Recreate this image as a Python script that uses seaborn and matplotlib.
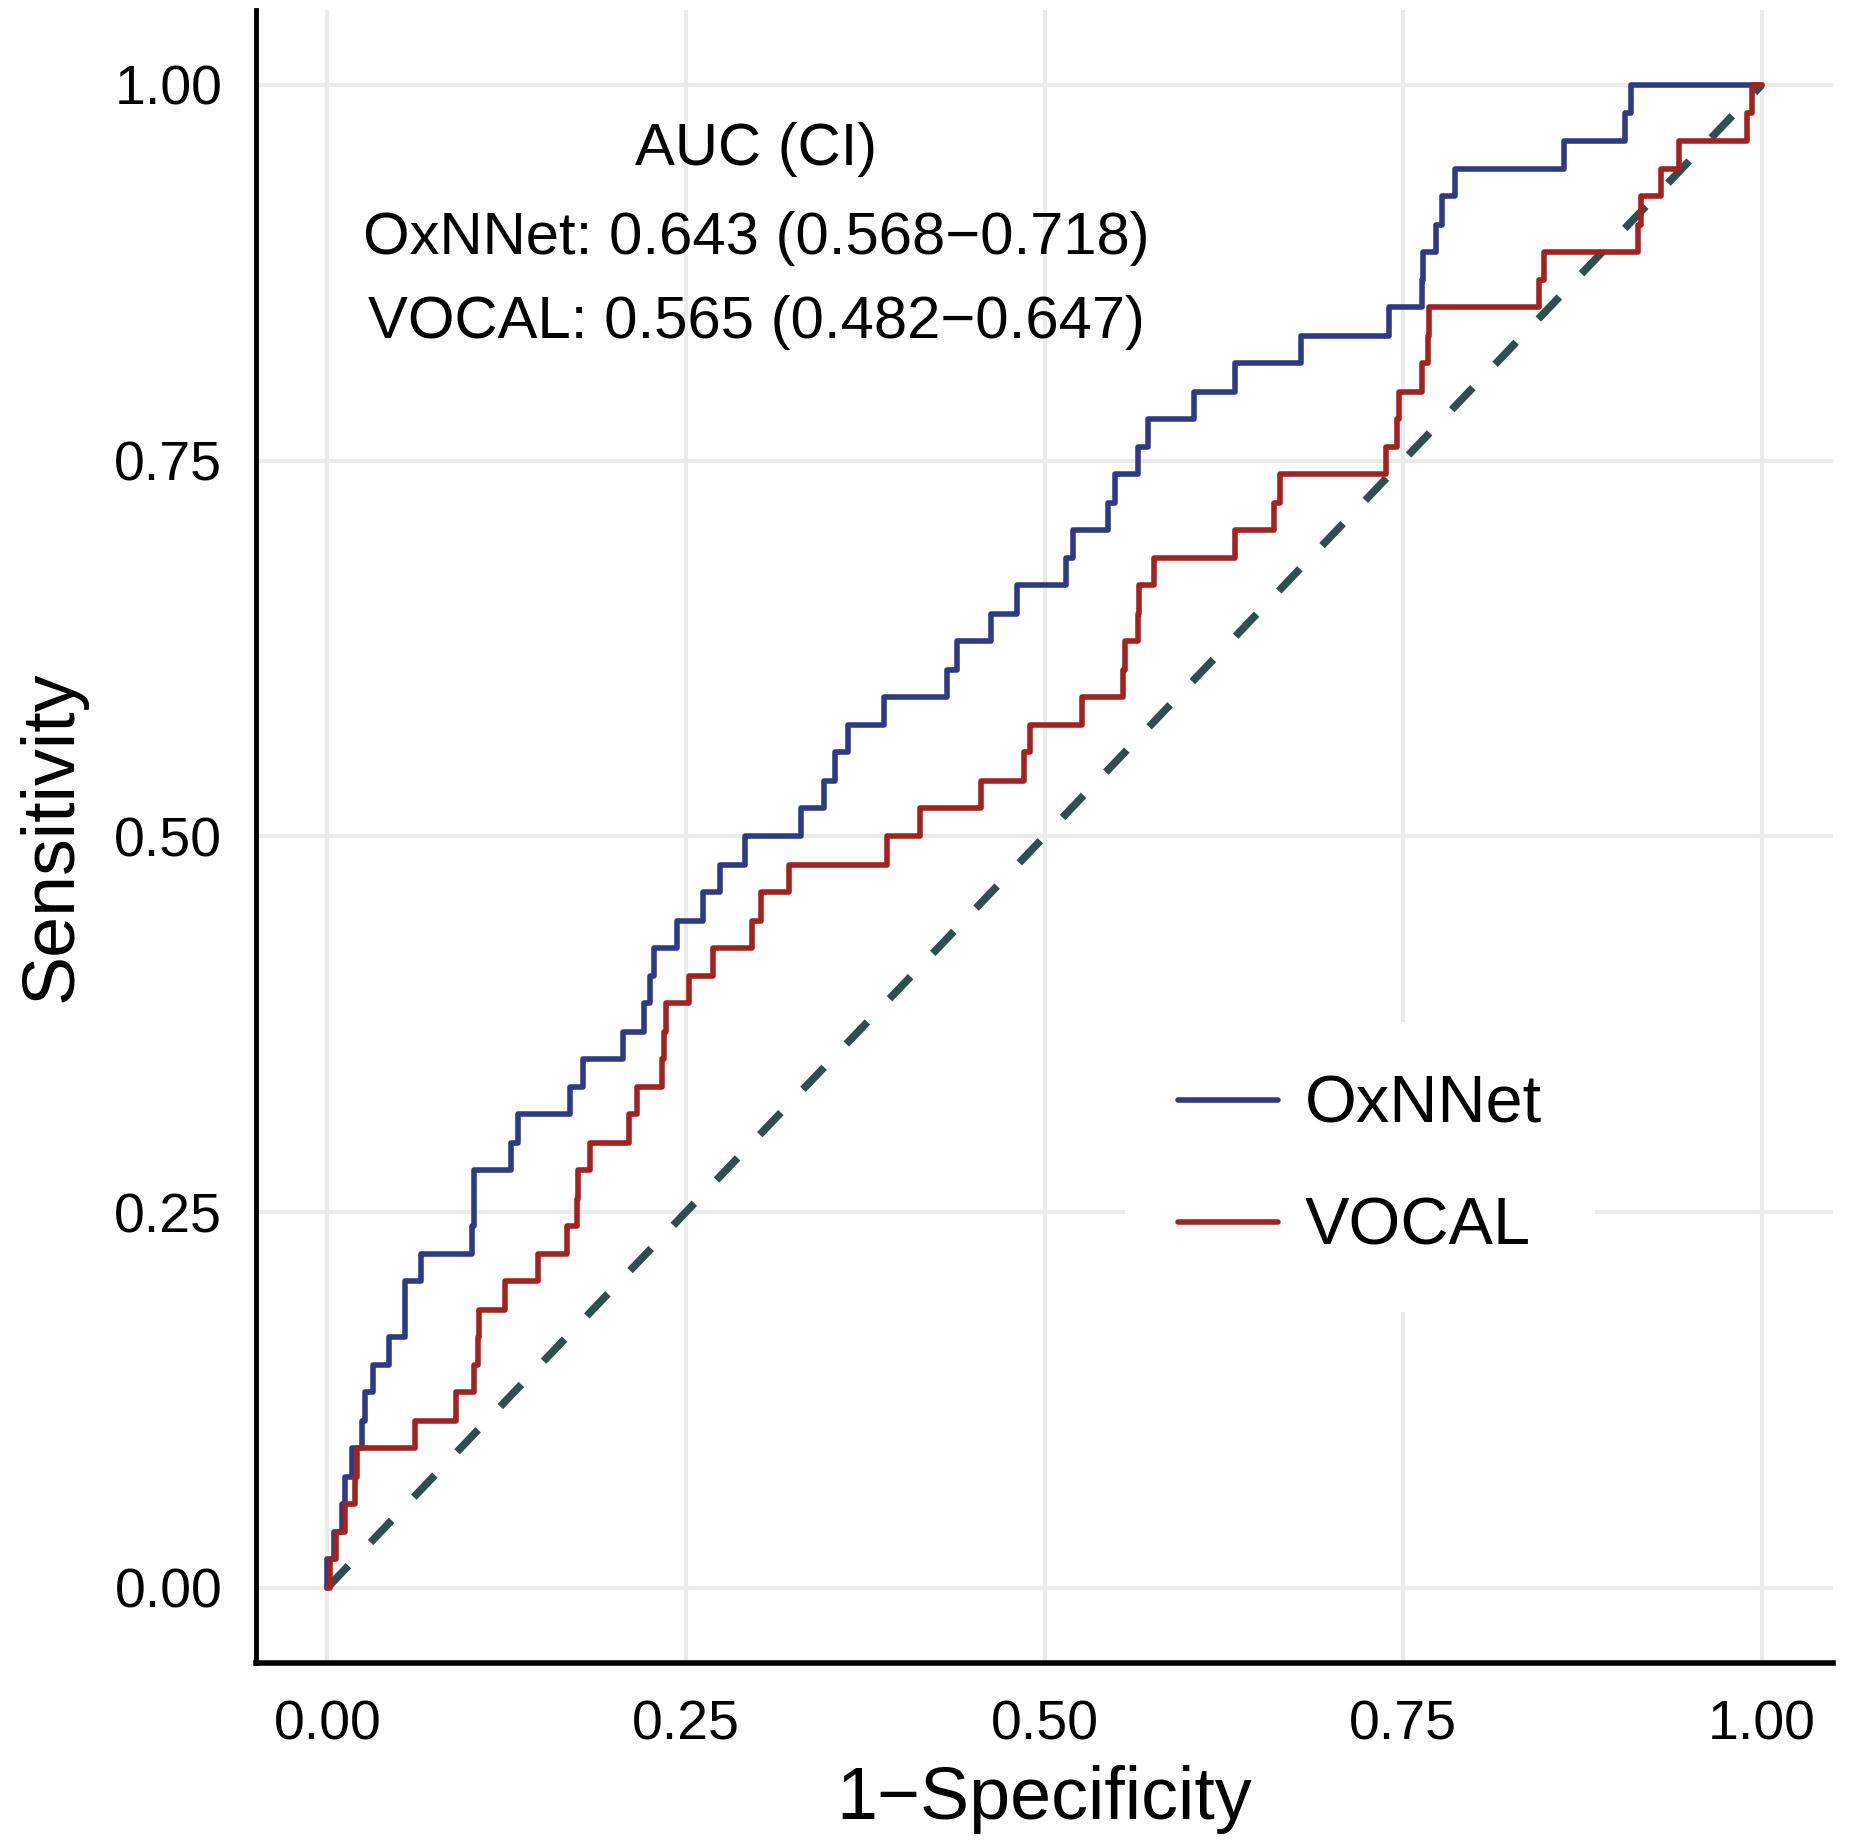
import numpy as np
import pandas as pd
import seaborn as sns
import matplotlib.pyplot as plt

# ROC step points (1-specificity, sensitivity)
oxnnet_fpr = [0.000, 0.000, 0.005, 0.010, 0.012, 0.017, 0.024, 0.026, 0.032, 0.043,
              0.054, 0.054, 0.065, 0.101, 0.102, 0.102, 0.128, 0.133, 0.169, 0.178,
              0.206, 0.221, 0.225, 0.228, 0.244, 0.262, 0.274, 0.291, 0.330, 0.346,
              0.354, 0.363, 0.388, 0.432, 0.439, 0.463, 0.481, 0.515, 0.520, 0.544,
              0.549, 0.565, 0.572, 0.604, 0.633, 0.679, 0.740, 0.763, 0.764, 0.773,
              0.777, 0.786, 0.862, 0.905, 0.909, 1.000]
oxnnet_tpr = [0.000, 0.019, 0.037, 0.056, 0.074, 0.093, 0.111, 0.130, 0.148, 0.167,
              0.185, 0.204, 0.222, 0.241, 0.259, 0.278, 0.296, 0.315, 0.333, 0.352,
              0.370, 0.389, 0.407, 0.426, 0.444, 0.463, 0.481, 0.500, 0.519, 0.537,
              0.556, 0.574, 0.593, 0.611, 0.630, 0.648, 0.667, 0.685, 0.704, 0.722,
              0.741, 0.759, 0.778, 0.796, 0.815, 0.833, 0.852, 0.870, 0.889, 0.907,
              0.926, 0.944, 0.963, 0.981, 1.000, 1.000]

vocal_fpr = [0.000, 0.002, 0.006, 0.012, 0.019, 0.021, 0.061, 0.090, 0.102, 0.105,
             0.106, 0.124, 0.147, 0.167, 0.174, 0.175, 0.183, 0.210, 0.216, 0.233,
             0.235, 0.236, 0.252, 0.269, 0.296, 0.302, 0.322, 0.390, 0.413, 0.456,
             0.486, 0.490, 0.526, 0.555, 0.556, 0.565, 0.566, 0.576, 0.633, 0.660,
             0.664, 0.738, 0.746, 0.747, 0.763, 0.767, 0.768, 0.845, 0.848, 0.914,
             0.916, 0.930, 0.942, 0.990, 0.993, 1.000]
vocal_tpr = [0.000, 0.019, 0.037, 0.056, 0.074, 0.093, 0.111, 0.130, 0.148, 0.167,
             0.185, 0.204, 0.222, 0.241, 0.259, 0.278, 0.296, 0.315, 0.333, 0.352,
             0.370, 0.389, 0.407, 0.426, 0.444, 0.463, 0.481, 0.500, 0.519, 0.537,
             0.556, 0.574, 0.593, 0.611, 0.630, 0.648, 0.667, 0.685, 0.704, 0.722,
             0.741, 0.759, 0.778, 0.796, 0.815, 0.833, 0.852, 0.870, 0.889, 0.907,
             0.926, 0.944, 0.963, 0.981, 1.000, 1.000]

models = ['OxNNet', 'VOCAL']
colors = ['#2F3A85', '#A3221E']
auc_lines = ['AUC (CI)',
             'OxNNet: 0.643 (0.568\u22120.718)',
             'VOCAL: 0.565 (0.482\u22120.647)']
ticks = [0.00, 0.25, 0.50, 0.75, 1.00]
tick_labels = ['0.00', '0.25', '0.50', '0.75', '1.00']

df = pd.concat([
    pd.DataFrame({'fpr': oxnnet_fpr, 'tpr': oxnnet_tpr, 'model': 'OxNNet'}),
    pd.DataFrame({'fpr': vocal_fpr, 'tpr': vocal_tpr, 'model': 'VOCAL'}),
], ignore_index=True)

sns.set_style('white')
plt.rcParams['font.family'] = ['Liberation Sans', 'DejaVu Sans']
plt.rcParams['text.color'] = 'black'
plt.rcParams['axes.labelcolor'] = 'black'

fig = plt.figure(figsize=(18.52, 18.43), dpi=100)
ax = fig.add_axes([0.138, 0.0977, 0.852, 0.897])

# chance line
ax.plot([0, 1], [0, 1], color='#2F4F4F', lw=5.5, ls=(0, (4.0, 4.2)),
        dash_capstyle='butt', zorder=1)
sns.lineplot(data=df, x='fpr', y='tpr', hue='model', hue_order=models,
             palette=colors, estimator=None, sort=False, drawstyle='steps-post',
             lw=4, ax=ax, zorder=3)

ax.set_xlim(-0.05, 1.05)
ax.set_ylim(-0.05, 1.05)
ax.set_xticks(ticks)
ax.set_xticklabels(tick_labels)
ax.set_yticks(ticks)
ax.set_yticklabels(tick_labels)
ax.grid(True, color='#EBEBEB', lw=3, zorder=0)
ax.set_axisbelow(True)

for side in ['top', 'right']:
    ax.spines[side].set_visible(False)
ax.spines['left'].set_linewidth(3.5)
ax.spines['bottom'].set_linewidth(4)
ax.spines['left'].set_color('black')
ax.spines['bottom'].set_color('black')

ax.tick_params(axis='both', which='major', labelsize=40, width=2.5,
               color='black', labelcolor='black')
ax.tick_params(axis='y', length=10, pad=14)
ax.tick_params(axis='x', length=0, pad=26)

ax.set_xlabel('1\u2212Specificity', fontsize=53, labelpad=10, color='black')
ax.set_ylabel('Sensitivity', fontsize=53, labelpad=20, color='black')

for txt, yy in zip(auc_lines, [0.957, 0.898, 0.842]):
    ax.text(0.299, yy, txt, fontsize=43, ha='center', va='center', color='black')

handles, labels = ax.get_legend_handles_labels()
leg = ax.legend(handles=handles, labels=labels, loc='center',
                bbox_to_anchor=(0.70, 0.30), fontsize=48, frameon=True,
                facecolor='white', edgecolor='none', framealpha=1,
                handlelength=1.5, handletextpad=0.4, labelspacing=0.9,
                borderpad=0.8, fancybox=False)
for line in leg.get_lines():
    line.set_linewidth(4)
for t in leg.get_texts():
    t.set_color('black')

fig.savefig('out.png', dpi=100)
